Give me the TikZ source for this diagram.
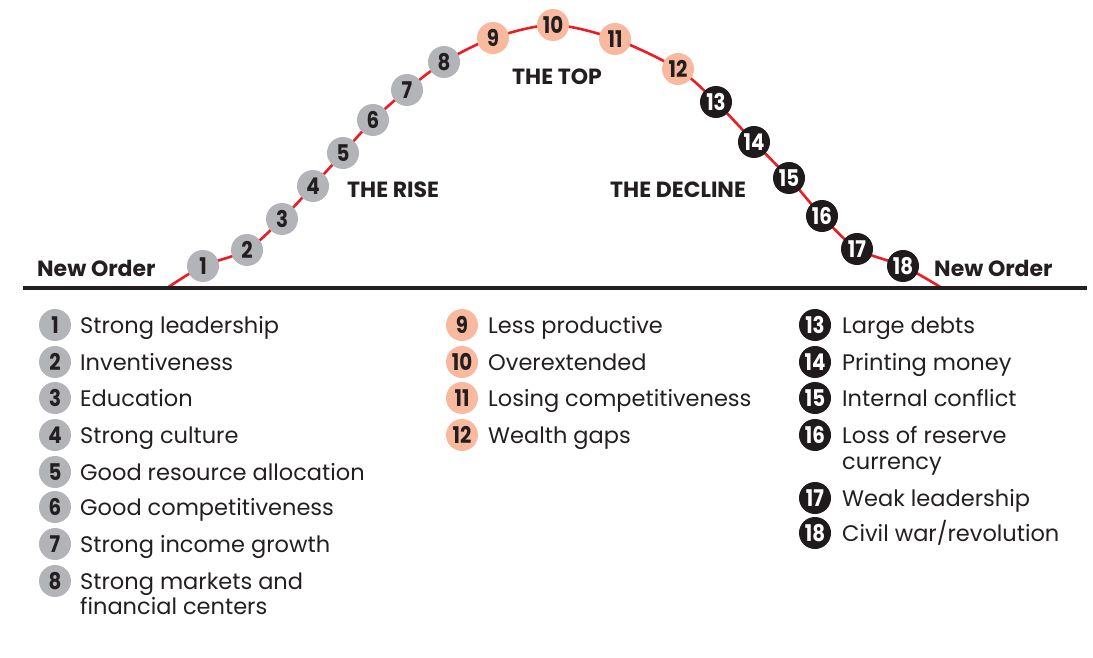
\documentclass[tikz,border=0pt]{standalone}
\usepackage{fontspec}
\setmainfont{Poppins}
\definecolor{cgray}{HTML}{B2B4B7}
\definecolor{csalmon}{HTML}{F9B99F}
\definecolor{cblack}{HTML}{1F1A1B}
\definecolor{cred}{HTML}{ED1C24}
\definecolor{ctext}{HTML}{231F20}
\newcommand{\dotnum}[1]{\scalebox{0.86}[1]{#1}}
\tikzset{
  dot/.style={circle, minimum size=32pt, inner sep=0pt, font=\fontsize{23}{23}\selectfont\bfseries},
  risedot/.style={dot, fill=cgray, text=ctext},
  topdot/.style={dot, fill=csalmon, text=ctext},
  falldot/.style={dot, fill=cblack, text=white},
  item/.style={anchor=base west, inner sep=0pt, text=ctext, font=\fontsize{22.5}{25}\selectfont},
  phase/.style={anchor=base west, inner sep=0pt, text=ctext, font=\fontsize{22}{22}\selectfont\bfseries},
  curve/.style={draw=cred, line width=2.6pt},
  ground/.style={draw=ctext, line width=4.5pt}
}
\begin{document}
\begin{tikzpicture}[x=1pt,y=-1pt]
\useasboundingbox (0,0) rectangle (1093,658);
% curve points
\coordinate (s) at (167,288);
\coordinate (p1) at (203,266);
\coordinate (p2) at (247,250);
\coordinate (p3) at (282,219);
\coordinate (p4) at (313,186);
\coordinate (p5) at (343,153);
\coordinate (p6) at (373,120);
\coordinate (p7) at (407,90);
\coordinate (p8) at (444,62);
\coordinate (p9) at (493,38);
\coordinate (p10) at (553,25);
\coordinate (p11) at (615,39);
\coordinate (p12) at (678,69);
\coordinate (p13) at (716,102);
\coordinate (p14) at (754,142);
\coordinate (p15) at (789,178);
\coordinate (p16) at (822,216);
\coordinate (p17) at (857,249);
\coordinate (p18) at (903,266);
\coordinate (e) at (942,288);
\coordinate (gl) at (23,288);
\coordinate (gr) at (1087,288);
\draw[curve] plot[smooth, tension=0.5] coordinates {(s) (p1) (p2) (p3) (p4) (p5) (p6) (p7) (p8) (p9) (p10) (p11) (p12) (p13) (p14) (p15) (p16) (p17) (p18) (e)};
\draw[ground] (gl) -- (gr);
% curve dots
\foreach \i in {1,...,8} \node[risedot] (c\i) at (p\i) {\dotnum{\i}};
\foreach \i in {9,...,12} \node[topdot] (c\i) at (p\i) {\dotnum{\i}};
\foreach \i in {13,...,18} \node[falldot] (c\i) at (p\i) {\dotnum{\i}};
% phase labels
\node[phase] (lno) at (37,276) {New Order};
\node[phase] (rno) at (934,276) {New Order};
\node[phase] (rise) at (347,197) {THE RISE};
\node[phase] (top) at (512,85) {THE TOP};
\node[phase] (decl) at (610,197) {THE DECLINE};
% legend column 1
\node[risedot] (l1) at (55,325) {\dotnum{1}}; \node[item] (t1) at (80,333) {Strong leadership};
\node[risedot] (l2) at (55,362) {\dotnum{2}}; \node[item] (t2) at (80,370) {Inventiveness};
\node[risedot] (l3) at (55,398) {\dotnum{3}}; \node[item] (t3) at (80,406) {Education};
\node[risedot] (l4) at (55,435) {\dotnum{4}}; \node[item] (t4) at (80,443) {Strong culture};
\node[risedot] (l5) at (55,472) {\dotnum{5}}; \node[item] (t5) at (80,480) {Good resource allocation};
\node[risedot] (l6) at (55,507) {\dotnum{6}}; \node[item] (t6) at (80,515) {Good competitiveness};
\node[risedot] (l7) at (55,544) {\dotnum{7}}; \node[item] (t7) at (80,552) {Strong income growth};
\node[risedot] (l8) at (55,581) {\dotnum{8}}; \node[item] (t8) at (80,589) {Strong markets and};
\node[item] (t8b) at (80,614) {financial centers};
% legend column 2
\node[topdot] (l9) at (462,325) {\dotnum{9}}; \node[item] (t9) at (488,333) {Less productive};
\node[topdot] (l10) at (462,362) {\dotnum{10}}; \node[item] (t10) at (488,370) {Overextended};
\node[topdot] (l11) at (462,398) {\dotnum{11}}; \node[item] (t11) at (488,406) {Losing competitiveness};
\node[topdot] (l12) at (462,435) {\dotnum{12}}; \node[item] (t12) at (488,443) {Wealth gaps};
% legend column 3
\node[falldot] (l13) at (815,325) {\dotnum{13}}; \node[item] (t13) at (842,333) {Large debts};
\node[falldot] (l14) at (815,362) {\dotnum{14}}; \node[item] (t14) at (842,370) {Printing money};
\node[falldot] (l15) at (815,398) {\dotnum{15}}; \node[item] (t15) at (842,406) {Internal conflict};
\node[falldot] (l16) at (815,435) {\dotnum{16}}; \node[item] (t16) at (842,443) {Loss of reserve};
\node[item] (t16b) at (842,469) {currency};
\node[falldot] (l17) at (815,498) {\dotnum{17}}; \node[item] (t17) at (842,506) {Weak leadership};
\node[falldot] (l18) at (815,533) {\dotnum{18}}; \node[item] (t18) at (842,541) {Civil war/revolution};
\end{tikzpicture}
\end{document}
